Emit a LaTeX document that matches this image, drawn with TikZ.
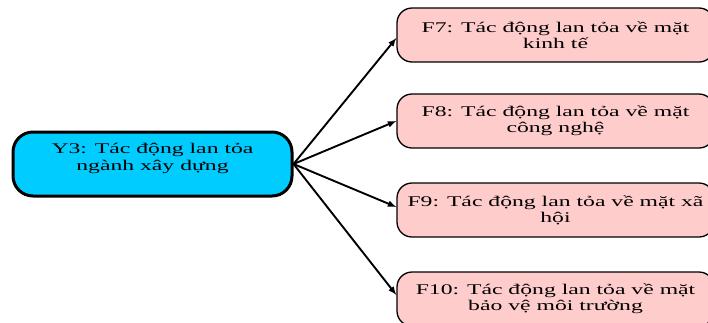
\documentclass[tikz,border=0pt]{standalone}
\usepackage{fontspec}
\setmainfont{Liberation Serif}[FakeStretch=1.6]
\usetikzlibrary{arrows,positioning}

\definecolor{ycyan}{RGB}{0,204,255}
\definecolor{fpink}{RGB}{255,204,204}

\tikzset{
  ybox/.style={draw, line width=3pt, rounded corners=20pt, fill=ycyan,
    align=center, minimum width=279pt, minimum height=64pt, inner sep=0pt,
    font=\fontsize{14.8}{17}\selectfont},
  fbox/.style={draw, line width=1.3pt, rounded corners=15pt, fill=fpink,
    align=center, minimum width=317pt, minimum height=54pt, inner sep=0pt,
    font=\fontsize{14.8}{16}\selectfont},
  link/.style={line width=1.9pt, -latex},
}

\begin{document}
\begin{tikzpicture}[x=1pt, y=-1pt, line join=round]
\useasboundingbox (0,0) rectangle (708,322);
\node[ybox] (Y3)  at (152.5,164) {Y3: Tác động lan tỏa\\ ngành xây dựng\\[-2pt]};
\node[fbox] (F7)  at (555.5,35)  {F7: Tác động lan tỏa về mặt\\ kinh tế};
\node[fbox] (F8)  at (555.5,121) {F8: Tác động lan tỏa về mặt\\ công nghệ};
\node[fbox] (F9)  at (555.5,210) {F9: Tác động lan tỏa về mặt xã\\ hội};
\node[fbox] (F10) at (555.5,299) {F10: Tác động lan tỏa về mặt\\ bảo vệ môi trường};
\draw[link] (Y3.east) -- ([yshift=-3pt]F7.west);
\draw[link] (Y3.east) -- (F8.west);
\draw[link] (Y3.east) -- ([yshift=3pt]F9.west);
\draw[link] (Y3.east) -- ([yshift=4pt]F10.west);
\end{tikzpicture}
\end{document}
